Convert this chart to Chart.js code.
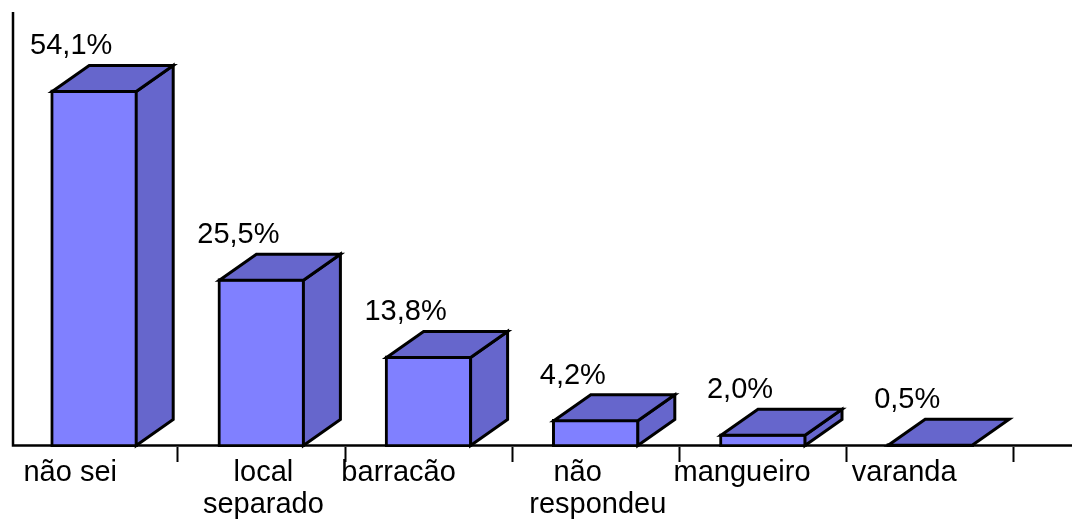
<!DOCTYPE html>
<html>
<head>
<meta charset="utf-8">
<style>
html,body{margin:0;padding:0;background:#fff}
canvas{display:block}
</style>
<script src="https://cdn.jsdelivr.net/npm/chart.js@4/dist/chart.umd.min.js"></script>
</head>
<body>
<canvas id="c" width="1072" height="521"></canvas>
<script>
// The trailing spaces keep "não" left of centre over "respondeu"
const categories = ['não sei', ['local', 'separado'], 'barracão', ['não     ', 'respondeu'], 'mangueiro', 'varanda'];
const values = [54.1, 25.5, 13.8, 4.2, 2.0, 0.5];
const valueLabels = ['54,1%', '25,5%', '13,8%', '4,2%', '2,0%', '0,5%'];
// Horizontal nudge of each category name relative to its slot centre
const tickShift = [-24, 2, -30, 2, -21, -26];

const FRONT = '#8080ff', SHADE = '#6666cc', INK = '#000';
const DEPTH_X = 37, DEPTH_Y = 26;
const LINE = 3;
const FONT = '29px "Liberation Sans", Arial, sans-serif';

// Side and top faces of each block, the axis lines and the percentage labels
const blocks = {
  id: 'blocks',
  beforeDraw(chart) {
    const scale = chart.scales.x;
    scale.getLabelItems().forEach((item, i) => {
      item.options.translation[0] = scale.getPixelForValue(i) + tickShift[i];
    });
  },
  beforeDatasetsDraw(chart) {
    const { ctx, scales } = chart;
    const axisY = scales.y.getPixelForValue(0) - 1.5;
    ctx.save();
    ctx.strokeStyle = INK;
    ctx.lineWidth = 2.5;
    ctx.beginPath();
    ctx.moveTo(13, 12);
    ctx.lineTo(13, axisY);
    ctx.lineTo(1072, axisY);
    ctx.stroke();
    ctx.restore();
  },
  afterDatasetsDraw(chart) {
    const { ctx } = chart;
    ctx.save();
    ctx.strokeStyle = INK;
    ctx.lineWidth = LINE;
    ctx.lineJoin = 'miter';
    chart.getDatasetMeta(0).data.forEach((bar, i) => {
      const h = bar.width / 2 - LINE / 2;
      const l = bar.x - h, r = bar.x + h, t = bar.y + LINE / 2, b = bar.base - LINE / 2;
      const face = pts => {
        ctx.beginPath();
        pts.forEach((p, k) => k ? ctx.lineTo(p[0], p[1]) : ctx.moveTo(p[0], p[1]));
        ctx.closePath();
        ctx.fillStyle = SHADE;
        ctx.fill();
        ctx.stroke();
      };
      if (b - t > 6) {
        face([[r, b], [r + DEPTH_X, b - DEPTH_Y], [r + DEPTH_X, t - DEPTH_Y], [r, t]]);
      }
      face([[l, t], [l + DEPTH_X, t - DEPTH_Y], [r + DEPTH_X, t - DEPTH_Y], [r, t]]);

      ctx.fillStyle = INK;
      ctx.font = FONT;
      ctx.textAlign = 'center';
      ctx.textBaseline = 'middle';
      ctx.fillText(valueLabels[i], bar.x - 23, t - DEPTH_Y - 19);
    });
    ctx.restore();
  }
};

new Chart(document.getElementById('c'), {
  type: 'bar',
  data: {
    labels: categories,
    datasets: [{
      data: values,
      backgroundColor: FRONT,
      borderColor: INK,
      borderWidth: LINE,
      borderSkipped: false,
      barThickness: 87
    }]
  },
  options: {
    responsive: false,
    animation: false,
    devicePixelRatio: 1,
    layout: { padding: { left: 10.6, right: 58.2, top: 18, bottom: 0 } },
    plugins: { legend: { display: false }, tooltip: { enabled: false } },
    scales: {
      x: {
        afterFit(scale) { scale.height = 74; },
        border: { display: false },
        grid: {
          drawOnChartArea: false,
          tickLength: 15,
          tickWidth: 2,
          tickColor: ctx => ctx.index === 0 ? 'rgba(0,0,0,0)' : INK
        },
        ticks: {
          autoSkip: false,
          maxRotation: 0,
          minRotation: 0,
          padding: -4.5,
          color: INK,
          font: { family: '"Liberation Sans", Arial, sans-serif', size: 29, lineHeight: 1.09 }
        }
      },
      y: { display: false, min: 0, max: 65 }
    }
  },
  plugins: [blocks]
});
</script>
</body>
</html>
